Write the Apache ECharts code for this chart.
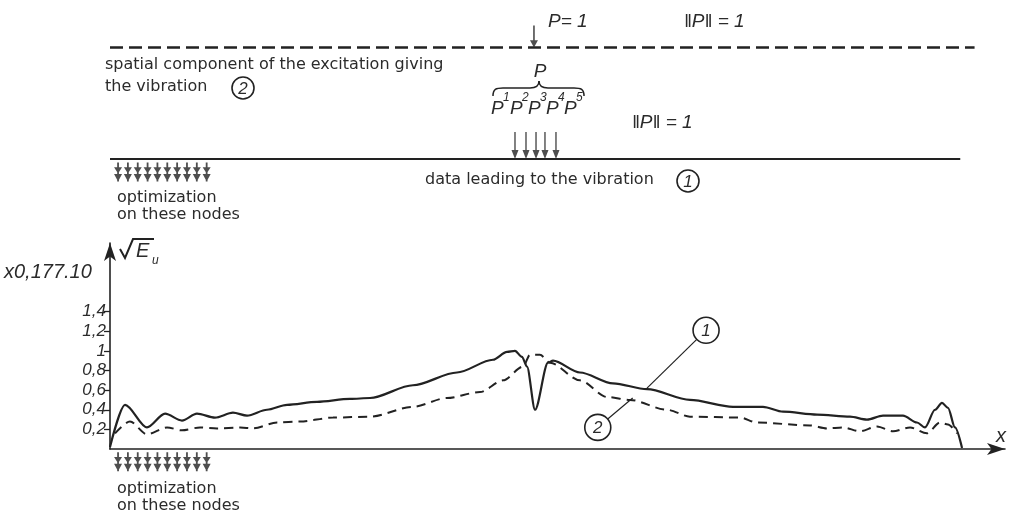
<!DOCTYPE html>
<html>
<head>
<meta charset="utf-8">
<script src="https://cdn.jsdelivr.net/npm/echarts@6/dist/echarts.min.js"></script>
<style>
  html, body { margin: 0; background: #fff; }
  #chart { width: 1011px; height: 520px; }
</style>
</head>
<body>
<div id="chart"></div>
<script>
// curve 1 (solid): sqrt(E_u) for the data leading to the vibration
const solidX = [0, 1.68, 4.13, 6.15, 8.04, 9.72, 11.73, 13.74, 15.31, 17.54, 19.78, 23.13, 26.82, 29.05,
  33.85, 38.77, 42.79, 44.36, 45.25, 46.03, 46.59, 47.49, 48.94, 49.5, 52.51, 56.2, 60, 64.8, 69.61,
  72.96, 75.2, 79, 82.68, 84.58, 86.37, 88.6, 90.17, 91.06, 92.18, 92.96, 93.63, 94.41, 95.2]
const solidY = [0.02, 0.45, 0.22, 0.36, 0.29, 0.36, 0.32, 0.37, 0.34, 0.4, 0.45, 0.48, 0.51, 0.52,
  0.65, 0.78, 0.91, 0.99, 1.0, 0.94, 0.84, 0.4, 0.88, 0.9, 0.78, 0.67, 0.61, 0.5, 0.43,
  0.43, 0.38, 0.35, 0.33, 0.3, 0.34, 0.34, 0.27, 0.22, 0.4, 0.47, 0.42, 0.22, 0.01]
// curve 2 (dashed): spatial component of the excitation
const dashedX = [0.56, 2.23, 4.13, 6.37, 8.04, 10.06, 11.96, 14.53, 15.98, 18.66, 21.23, 24.92, 29.05,
  33.85, 37.65, 41.34, 43.91, 46.15, 46.93, 48.04, 49.16, 52.51, 55.53, 58.1, 62.23, 64.8, 70.39,
  72.29, 78.21, 80.11, 81.9, 83.8, 85.7, 87.49, 89.39, 91.28, 92.74, 93.63, 94.64]
const dashedY = [0.16, 0.28, 0.15, 0.22, 0.19, 0.22, 0.21, 0.22, 0.21, 0.27, 0.28, 0.32, 0.33,
  0.43, 0.52, 0.58, 0.7, 0.84, 0.96, 0.96, 0.88, 0.7, 0.53, 0.5, 0.4, 0.33, 0.32,
  0.27, 0.24, 0.21, 0.22, 0.18, 0.23, 0.18, 0.22, 0.16, 0.27, 0.25, 0.16]
const yTicks = [0.2, 0.4, 0.6, 0.8, 1, 1.2, 1.4]
// optimization nodes and load points along x
const nodeX = [0.9, 2.0, 3.1, 4.2, 5.3, 6.4, 7.5, 8.6, 9.7, 10.8]
const loadX = [45.25, 46.48, 47.6, 48.6, 49.83]
const unitLoadX = 47.37

const ink = '#222'
const textInk = '#2b2b2b'
const sans = 'DejaVu Sans'
const ital = 'Liberation Sans'

// schematic levels (grid 1 is measured downwards from the top)
const excitationLevel = 47.5
const dataLevel = 159
const nodeLevel = 172

const downArrow = 'path://M3.2,0H4.8V18H8L4,27L0,18H3.2Z'
const nodeArrow = 'path://M3.1,0H4.9V20H3.1Z M0,5H8L4,11.5Z M0,12H8L4,20Z'

const chart = echarts.init(document.getElementById('chart'))

const hiddenAxis = { show: false }
chart.setOption({
  animation: false,
  backgroundColor: '#fff',
  grid: [
    { left: 110, right: 6, top: 243, bottom: 71 },
    { left: 110, right: 6, top: 0, height: 230 }
  ],
  xAxis: [
    {
      type: 'value', min: 0, max: 100, gridIndex: 0,
      axisLine: { show: true, onZero: false, symbol: ['none', 'arrow'], symbolSize: [9, 18], lineStyle: { color: ink, width: 1.6 } },
      axisTick: { show: false }, axisLabel: { show: false }, splitLine: { show: false }
    },
    { type: 'value', min: 0, max: 100, gridIndex: 1, ...hiddenAxis }
  ],
  yAxis: [
    {
      type: 'value', min: 0, max: 2.1, gridIndex: 0,
      axisLine: { show: true, onZero: false, symbol: ['none', 'arrow'], symbolSize: [9, 18], lineStyle: { color: ink, width: 1.6 } },
      axisTick: { show: true, customValues: yTicks, length: 6, lineStyle: { color: ink, width: 1.3 } },
      axisLabel: {
        show: true, customValues: yTicks, margin: 4,
        color: textInk, fontFamily: ital, fontStyle: 'italic', fontSize: 17,
        formatter: v => String(v).replace('.', ',')
      },
      splitLine: { show: false }
    },
    { type: 'value', min: 0, max: 230, inverse: true, gridIndex: 1, ...hiddenAxis }
  ],
  series: [
    {
      name: '1', type: 'line', xAxisIndex: 0, yAxisIndex: 0,
      data: solidX.map((x, i) => [x, solidY[i]]),
      smooth: 0.3, smoothMonotone: 'x', showSymbol: false,
      lineStyle: { color: ink, width: 2.2 }
    },
    {
      name: '2', type: 'line', xAxisIndex: 0, yAxisIndex: 0,
      data: dashedX.map((x, i) => [x, dashedY[i]]),
      smooth: 0.3, smoothMonotone: 'x', showSymbol: false,
      lineStyle: { color: ink, width: 2, type: [9, 6] }
    },
    {
      name: 'nodes below axis', type: 'scatter', xAxisIndex: 0, yAxisIndex: 0, clip: false,
      data: nodeX.map(x => [x, -0.13]),
      symbol: nodeArrow, symbolSize: [8, 19], itemStyle: { color: ink }
    },
    {
      name: 'excitation line', type: 'line', xAxisIndex: 1, yAxisIndex: 1,
      data: [[0, excitationLevel], [96.6, excitationLevel]], showSymbol: false,
      lineStyle: { color: ink, width: 2.4, type: [13, 6] }
    },
    {
      name: 'data line', type: 'line', xAxisIndex: 1, yAxisIndex: 1,
      data: [[0, dataLevel], [95.0, dataLevel]], showSymbol: false,
      lineStyle: { color: ink, width: 2 }
    },
    {
      name: 'unit load', type: 'scatter', xAxisIndex: 1, yAxisIndex: 1,
      data: [[unitLoadX, excitationLevel]],
      symbol: downArrow, symbolSize: [8, 22], symbolOffset: [0, '-50%'], itemStyle: { color: ink }
    },
    {
      name: 'loads', type: 'scatter', xAxisIndex: 1, yAxisIndex: 1,
      data: loadX.map(x => [x, dataLevel]),
      symbol: downArrow, symbolSize: [7, 27], symbolOffset: [0, '-50%'], itemStyle: { color: ink }
    },
    {
      name: 'nodes', type: 'scatter', xAxisIndex: 1, yAxisIndex: 1,
      data: nodeX.map(x => [x, nodeLevel]),
      symbol: nodeArrow, symbolSize: [8, 19], itemStyle: { color: ink }
    }
  ]
})

function txt(x, y, text, font, align) {
  return {
    type: 'text', x, y, silent: true,
    style: { text, font, fill: textInk, align: align || 'left', verticalAlign: 'middle' }
  }
}
function circled(cx, cy, r, label) {
  return [
    { type: 'circle', shape: { cx, cy, r }, style: { fill: '#fff', stroke: ink, lineWidth: 1.6 } },
    txt(cx, cy + 1, label, 'italic 17px ' + ital, 'center')
  ]
}
function curve(x1, y1, cpx1, cpy1, cpx2, cpy2, x2, y2) {
  return {
    type: 'bezierCurve', silent: true,
    shape: { x1, y1, cpx1, cpy1, cpx2, cpy2, x2, y2 },
    style: { fill: 'none', stroke: ink, lineWidth: 1.5 }
  }
}
function seg(x1, y1, x2, y2, w) {
  return { type: 'line', silent: true, shape: { x1, y1, x2, y2 }, style: { stroke: ink, lineWidth: w || 1.5 } }
}

// callouts on the curves
const callouts = [
  { at: [66.6, 1.21], target: [60, 0.62], label: '1' },
  { at: [54.5, 0.22], target: [58.4, 0.52], label: '2' }
]
const calloutEls = []
callouts.forEach(c => {
  const p = chart.convertToPixel({ gridIndex: 0 }, c.at)
  const t = chart.convertToPixel({ gridIndex: 0 }, c.target)
  const r = 13
  const dx = t[0] - p[0], dy = t[1] - p[1]
  const len = Math.sqrt(dx * dx + dy * dy)
  calloutEls.push(seg(p[0] + dx / len * r, p[1] + dy / len * r, t[0], t[1], 1.2))
  calloutEls.push(...circled(p[0], p[1], r, c.label))
})

const f16 = '16px ' + sans
const pLeft = [491, 510, 528, 546, 564]
const pLabels = []
pLeft.forEach((x, i) => {
  pLabels.push(txt(x, 109, 'P', 'italic 19px ' + ital))
  pLabels.push(txt(x + 12, 98, String(i + 1), 'italic 12px ' + ital))
})

// brace over P1..P5
const brace = [
  curve(493, 96, 493, 89, 496, 88, 503, 88),
  seg(503, 88, 530, 88),
  curve(530, 88, 536, 88, 539, 86, 539, 81),
  curve(539, 81, 539, 86, 542, 88, 548, 88),
  seg(548, 88, 574, 88),
  curve(574, 88, 581, 88, 584, 89, 584, 96)
]

chart.setOption({
  graphic: [
    txt(548, 22, 'P= 1', 'italic 19px ' + ital),
    txt(684, 22, '\u2016P\u2016 = 1', 'italic 19px ' + ital),
    txt(105, 65, 'spatial component of the excitation giving', f16),
    txt(105, 87, 'the vibration', f16),
    ...circled(243, 88, 11, '2'),
    txt(540, 72, 'P', 'italic 19px ' + ital, 'center'),
    ...brace,
    ...pLabels,
    txt(632, 123, '\u2016P\u2016 = 1', 'italic 19px ' + ital),
    txt(425, 180, 'data leading to the vibration', f16),
    ...circled(688, 181, 11, '1'),
    txt(117, 198, 'optimization', f16),
    txt(117, 215, 'on these nodes', f16),
    txt(117, 489, 'optimization', f16),
    txt(117, 506, 'on these nodes', f16),
    txt(4, 272, 'x0,177.10', 'italic 20px ' + ital),
    {
      type: 'polyline', silent: true,
      shape: { points: [[120, 249], [125, 258], [133, 239], [154, 239]] },
      style: { fill: 'none', stroke: ink, lineWidth: 2 }
    },
    txt(136, 251, 'E', 'italic 20px ' + ital),
    txt(152, 261, 'u', 'italic 12px ' + ital),
    txt(996, 436, 'x', 'italic 20px ' + ital),
    ...calloutEls
  ]
})
</script>
</body>
</html>
